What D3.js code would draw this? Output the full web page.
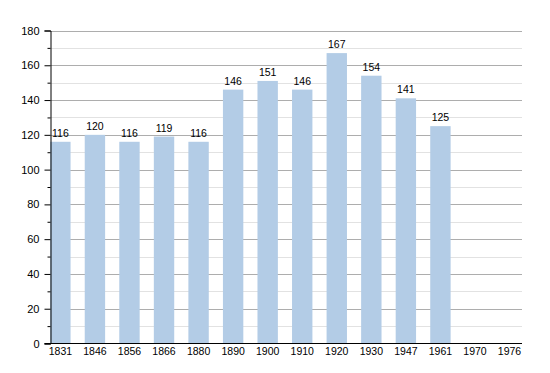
<!DOCTYPE html>
<html>
<head>
<meta charset="utf-8">
<script src="https://cdn.jsdelivr.net/npm/d3@7"></script>
<style>
  html, body { margin: 0; padding: 0; background: #fff; }
  svg { display: block; }
  svg text { font-family: "Liberation Sans", Arial, Helvetica, sans-serif; fill: #000; }
</style>
</head>
<body>
<svg id="chart" width="550" height="373"></svg>
<script>
const years = ["1831","1846","1856","1866","1880","1890","1900","1910","1920","1930","1947","1961","1970","1976"];
const population = [116,120,116,119,116,146,151,146,167,154,141,125,null,null];
const yMajorTicks = [0,20,40,60,80,100,120,140,160,180];
const yMinorTicks = [10,30,50,70,90,110,130,150,170];

(function () {
const svg = d3.select("#chart");
const mLeft = 50.5, mRight = 522, mTop = 30.5, mBottom = 343.5;

const x = d3.scaleBand().domain(years).range([43.1, 526.8]).paddingInner(0.41).paddingOuter(0.205);
const y = d3.scaleLinear().domain([0, 180]).range([mBottom, mTop]);

// grid
svg.append("g").selectAll("line").data(yMinorTicks).join("line")
  .attr("x1", mLeft).attr("x2", mRight)
  .attr("y1", d => Math.round(y(d)) + 0.5).attr("y2", d => Math.round(y(d)) + 0.5)
  .attr("stroke", "#e2e2e2").attr("stroke-width", 1);
svg.append("g").selectAll("line").data(yMajorTicks.filter(d => d > 0)).join("line")
  .attr("x1", mLeft).attr("x2", mRight)
  .attr("y1", d => Math.round(y(d)) + 0.5).attr("y2", d => Math.round(y(d)) + 0.5)
  .attr("stroke", "#adadad").attr("stroke-width", 1);

// bars
const data = years.map((yr, i) => ({yr, v: population[i]})).filter(d => d.v != null);
svg.append("g").selectAll("rect").data(data).join("rect")
  .attr("x", d => x(d.yr)).attr("width", x.bandwidth())
  .attr("y", d => y(d.v)).attr("height", d => y(0) - y(d.v))
  .attr("fill", "#b3cce6");

// value labels
svg.append("g").selectAll("text").data(data).join("text")
  .attr("x", d => x(d.yr) + x.bandwidth() / 2)
  .attr("y", d => y(d.v) - 5)
  .attr("text-anchor", "middle").attr("font-size", 10.5)
  .text(d => d.v);

// y axis
const yAxis = d3.axisLeft(y).tickValues(yMajorTicks).tickSize(6).tickPadding(5).tickFormat(d3.format("d"));
const gy = svg.append("g").attr("transform", `translate(${mLeft},0)`).call(yAxis);
gy.attr("font-family", null).attr("font-size", null);
gy.select(".domain").attr("stroke", "#000");
gy.selectAll(".tick line").attr("stroke", "#000");
gy.selectAll(".tick text").attr("font-size", 11).attr("fill", "#000");
const yMinorAxis = d3.axisLeft(y).tickValues(yMinorTicks).tickSize(3).tickFormat("");
const gym = svg.append("g").attr("transform", `translate(${mLeft},0)`).call(yMinorAxis);
gym.select(".domain").remove();
gym.selectAll(".tick line").attr("stroke", "#000");

// x axis
const xAxis = d3.axisBottom(x).tickSize(0).tickPadding(4);
const gx = svg.append("g").attr("transform", `translate(0,${mBottom})`).call(xAxis);
gx.attr("font-family", null).attr("font-size", null);
gx.select(".domain").remove();
gx.selectAll(".tick text").attr("font-size", 10.5).attr("fill", "#000");
svg.append("line").attr("x1", 44.5).attr("x2", mRight).attr("y1", mBottom).attr("y2", mBottom)
  .attr("stroke", "#000").attr("stroke-width", 1.2);
})();
</script>
</body>
</html>
